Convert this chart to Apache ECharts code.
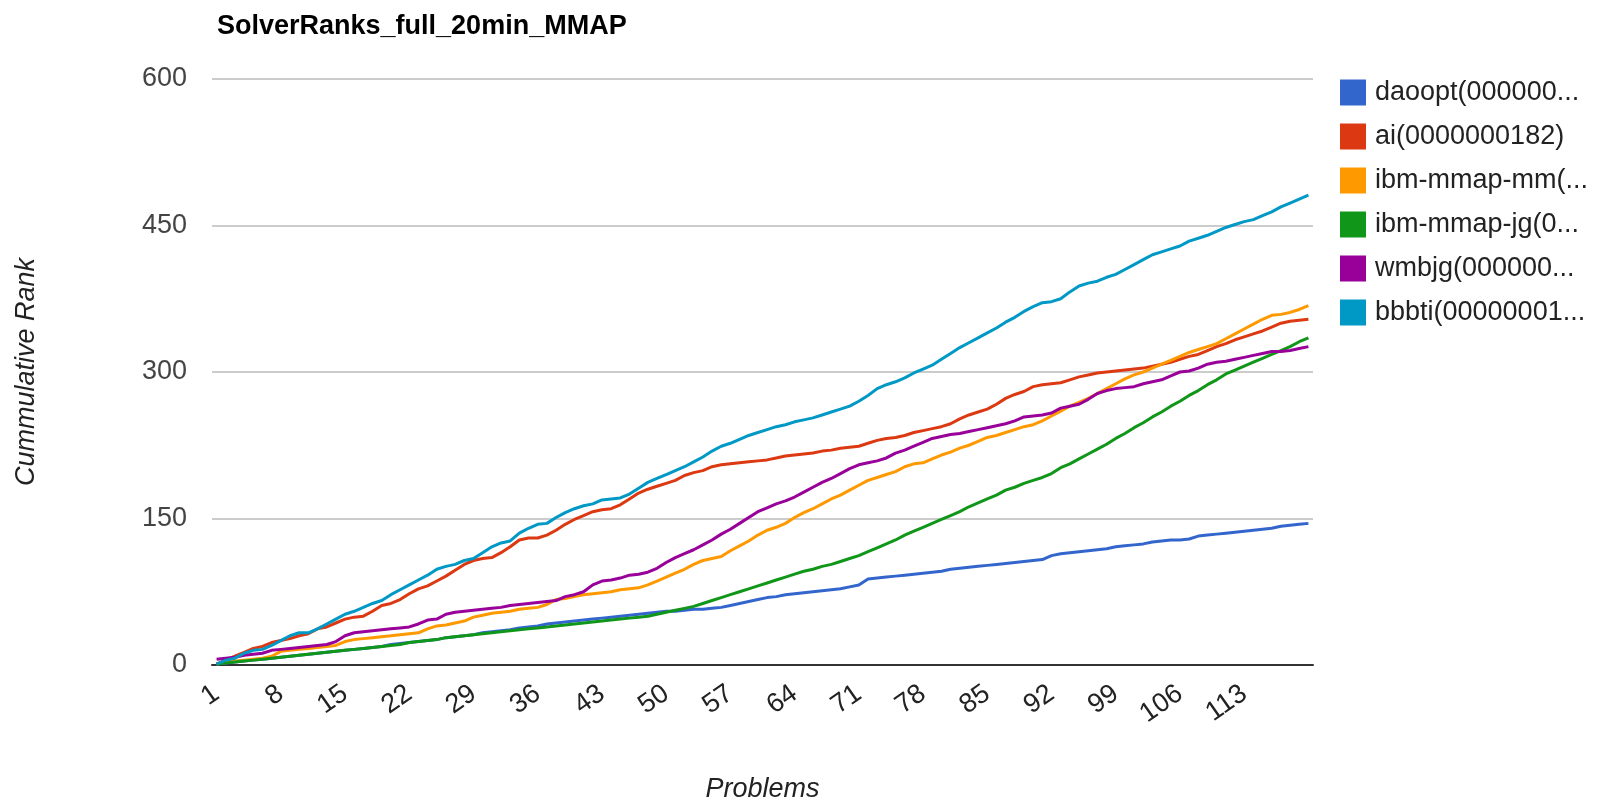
<!DOCTYPE html>
<html>
<head>
<meta charset="utf-8">
<title>SolverRanks_full_20min_MMAP</title>
<script src="https://cdn.jsdelivr.net/npm/echarts@6/dist/echarts.min.js"></script>
<style>
  html, body { margin: 0; padding: 0; background: #fff; }
  #chart { width: 1598px; height: 803px; }
</style>
</head>
<body>
<div id="chart"></div>
<script>
  // problem numbers on the x axis (1..120)
  var problems = []
  for (var p = 1; p <= 120; p++) problems.push(String(p))

  var seriesNames = ['daoopt(000000...', 'ai(0000000182)', 'ibm-mmap-mm(...', 'ibm-mmap-jg(0...', 'wmbjg(000000...', 'bbbti(00000001...']
  var colors = ['#3366cc', '#dc3912', '#ff9900', '#109618', '#990099', '#0099c6']

  var daoopt = [1, 2, 3, 4, 5, 6, 7, 8, 9, 10, 11, 12, 13, 14, 15, 16, 17, 18, 19, 21, 22, 23,
    24, 25, 26, 28, 29, 30, 31, 33, 34, 35, 36,
    38, 39, 40, 42, 43, 44, 45, 46, 47, 48, 49, 50, 51, 52, 53, 54, 55, 55, 56, 57, 57, 58, 59,
    61, 63, 65, 67, 69, 70, 72, 73, 74, 75, 76, 77, 78, 80, 82,
    88, 89, 90, 91, 92, 93, 94, 95, 96, 98, 99, 100, 101, 102, 103, 104, 105, 106, 107, 108,
    112, 114, 115, 116, 117, 118, 119, 121, 122, 123, 124, 126, 127, 128, 128, 129, 132, 133, 134, 135,
    136, 137, 138, 139, 140, 142, 143, 144, 145]

  var ai = [1, 5, 9, 13, 17, 19, 23, 25, 27, 30,
    32, 37, 39, 43, 47, 49, 50, 55, 61, 63,
    67, 73, 78, 81, 86, 91, 97, 103, 107, 109,
    110, 115, 121, 128, 130, 130, 133, 138, 144, 149,
    153, 157, 159, 160, 164, 170, 176, 180, 183, 186,
    189, 194, 197, 199, 203, 205, 206, 207, 208, 209,
    210, 212, 214, 215, 216, 217, 219, 220, 222, 223,
    224, 227, 230, 232, 233, 235, 238, 240, 242, 244,
    247, 252, 256, 259, 262, 267, 273, 277, 280, 285,
    287, 288, 289, 292, 295, 297, 299, 300, 301, 302,
    303, 304, 306, 308, 310, 313, 316, 318, 322, 326,
    329, 333, 336, 339, 342, 346, 350, 352, 353, 354]

  var ibmMm = [1, 3, 4, 5, 6, 7, 9, 14, 15, 16,
    17, 18, 19, 20, 24, 26, 27, 28, 29, 30,
    31, 32, 33, 37, 40, 41, 43, 45, 49, 51,
    53, 54, 55, 57, 58, 59, 62, 67, 68, 70,
    72, 73, 74, 75, 77, 78, 79, 82, 86, 90,
    94, 98, 103, 107, 109, 111, 117, 122, 127, 133,
    138, 141, 145, 151, 156, 160, 165, 170, 174, 179,
    184, 189, 192, 195, 198, 203, 206, 207, 211, 215,
    218, 222, 225, 229, 233, 235, 238, 241, 244, 246,
    250, 255, 260, 265, 269, 273, 278, 283, 288, 293,
    297, 300, 304, 308, 312, 316, 320, 323, 326, 329,
    334, 339, 344, 349, 354, 358, 359, 361, 364, 368]

  var ibmJg = [1, 2, 3, 4, 5, 6, 7, 8, 9, 10, 11, 12, 13, 14, 15, 16, 17, 18, 19, 20,
    21, 23, 24, 25, 26, 28, 29, 30, 31, 32, 33, 34, 35, 36, 37, 38, 39, 40, 41, 42,
    43, 44, 45, 46, 47, 48, 49, 50,
    52, 54, 56, 58, 60, 63, 66, 69, 72, 75, 78, 81, 84, 87, 90, 93, 96, 98, 101, 103, 106, 109,
    112, 116, 120, 124, 128, 133, 137, 141, 145, 149, 153, 157, 162, 166, 170, 174, 179, 182,
    186, 189, 192, 196,
    202, 206, 211, 216, 221, 226, 232, 237, 243, 248, 254, 259, 265, 270, 276, 281, 287, 292,
    298, 302, 306, 310, 314, 318, 322, 326, 331, 335]

  var wmbjg = [6, 7, 8, 10, 11, 12, 15, 16, 17, 18,
    19, 20, 21, 24, 30, 33, 34, 35, 36, 37,
    38, 39, 42, 46, 47, 52, 54, 55, 56, 57,
    58, 59, 61, 62, 63, 64, 65, 66, 70, 72,
    75, 82, 86, 87, 89, 92, 93, 95, 99, 105,
    110, 114, 118, 123, 128, 134, 139, 145, 151, 157,
    161, 165, 168, 172, 177, 182, 187, 191, 196, 201,
    205, 207, 209, 212, 217, 220, 224, 228, 232, 234,
    236, 237, 239, 241, 243, 245, 247, 250, 254, 255,
    256, 258, 263, 265, 267, 272, 278, 281, 283, 284,
    285, 288, 290, 292, 296, 300, 301, 304, 308, 310,
    311, 313, 315, 317, 319, 321, 321, 322, 324, 326]

  var bbbti = [1, 5, 7, 12, 15, 16, 20, 25, 30, 33,
    33, 37, 42, 47, 52, 55, 59, 63, 66, 72,
    77, 82, 87, 92, 98, 101, 103, 107, 109, 115,
    121, 125, 127, 135, 140, 144, 145, 151, 156, 160,
    163, 165, 169, 170, 171, 175, 181, 187, 191, 195,
    199, 203, 208, 213, 219, 224, 227, 231, 235, 238,
    241, 244, 246, 249, 251, 253, 256, 259, 262, 265,
    270, 276, 283, 287, 290, 294, 299, 303, 307, 313,
    319, 325, 330, 335, 340, 345, 351, 356, 362, 367,
    371, 372, 375, 382, 388, 391, 393, 397, 400, 405,
    410, 415, 420, 423, 426, 429, 434, 437, 440, 444,
    448, 451, 454, 456, 460, 464, 469, 473, 477, 481]

  var yTicks = [0, 150, 300, 450, 600]

  var font = 'Arial, "Liberation Sans", sans-serif'
  var allData = [daoopt, ai, ibmMm, ibmJg, wmbjg, bbbti]

  var chart = echarts.init(document.getElementById('chart'))
  chart.setOption({
    animation: false,
    color: colors,
    textStyle: { fontFamily: font },
    title: {
      text: 'SolverRanks_full_20min_MMAP',
      left: 212,
      top: 8,
      textStyle: { fontFamily: font, fontSize: 27, fontWeight: 'bold', color: '#000' }
    },
    legend: {
      orient: 'vertical',
      left: 1335,
      top: 74,
      itemWidth: 26,
      itemHeight: 26,
      itemGap: 17,
      icon: 'rect',
      textStyle: { fontFamily: font, fontSize: 27, color: '#222', padding: [0, 0, 0, 4] },
      data: seriesNames
    },
    grid: { left: 212, right: 285, top: 79, bottom: 138, containLabel: false, outerBoundsMode: 'none' },
    xAxis: {
      type: 'category',
      data: problems,
      boundaryGap: true,
      name: 'Problems',
      nameLocation: 'middle',
      nameGap: 111,
      nameTextStyle: { fontFamily: font, fontStyle: 'italic', fontSize: 27, color: '#222' },
      axisTick: { show: false },
      axisLine: { lineStyle: { color: '#333', width: 2 } },
      axisLabel: {
        interval: function (idx) { return idx % 7 === 0 && idx < 119 },
        rotate: 35,
        margin: 26,
        fontSize: 27,
        color: '#222'
      }
    },
    yAxis: {
      type: 'value',
      min: yTicks[0],
      max: yTicks[yTicks.length - 1],
      interval: 150,
      name: 'Cummulative Rank',
      nameLocation: 'middle',
      nameGap: 172,
      nameRotate: 90,
      nameTextStyle: { fontFamily: font, fontStyle: 'italic', fontSize: 27, color: '#222' },
      axisLine: { show: false },
      axisTick: { show: false },
      axisLabel: { fontSize: 27, color: '#444', margin: 25 },
      splitLine: { lineStyle: { color: '#cccccc', width: 2 } }
    },
    series: seriesNames.map(function (name, k) {
      return {
        name: name,
        type: 'line',
        data: allData[k],
        symbol: 'none',
        lineStyle: { width: 3, color: colors[k] },
        itemStyle: { color: colors[k] }
      }
    })
  })
</script>
</body>
</html>
